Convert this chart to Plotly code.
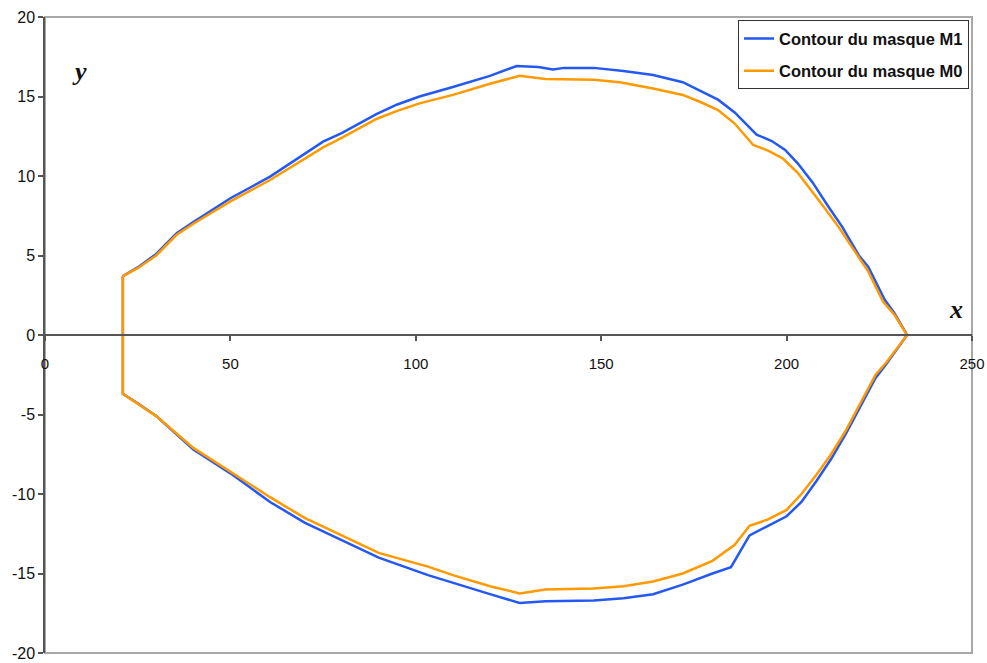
import plotly.graph_objects as go

# ---- data ----
m1_upper_x = [21, 25, 30, 35.5, 40, 50, 60.7, 70, 75, 80, 89.5, 95, 101, 110, 120, 127.2, 133, 137, 140, 148, 156, 164, 172, 176.6, 181.5, 186, 191.9, 196, 199.6, 203, 207, 211.2, 215, 219.5, 222, 226.5, 229, 232.5]
m1_upper_y = [3.7, 4.25, 5.1, 6.4, 7.1, 8.6, 9.96, 11.4, 12.16, 12.7, 13.9, 14.5, 15.0, 15.6, 16.3, 16.92, 16.85, 16.7, 16.8, 16.8, 16.6, 16.35, 15.9, 15.37, 14.8, 14.0, 12.6, 12.2, 11.64, 10.8, 9.6, 8.1, 6.8, 5.0, 4.3, 2.2, 1.4, 0]
m1_lower_x = [21, 25, 30, 40, 50, 60.7, 70, 80, 90, 103.3, 110, 120, 128, 135, 148, 156, 164, 172, 180, 185, 190, 195, 200, 204, 208, 212, 216, 220, 224, 227, 232.5]
m1_lower_y = [-3.7, -4.3, -5.1, -7.2, -8.7, -10.5, -11.8, -12.9, -14.0, -15.1, -15.6, -16.3, -16.85, -16.75, -16.7, -16.55, -16.3, -15.7, -15.0, -14.6, -12.6, -12.0, -11.4, -10.5, -9.2, -7.8, -6.2, -4.5, -2.7, -1.8, 0]

m0_upper_x = [21, 25, 30, 35.5, 40, 50, 60.7, 70, 75, 80, 89.5, 95, 101, 110, 120, 128, 135, 148, 155, 164, 172, 176.6, 181.5, 186, 191, 195, 199, 203, 206, 209.9, 214, 218.9, 222, 226, 229, 232.5]
m0_upper_y = [3.7, 4.2, 5.0, 6.3, 7.0, 8.4, 9.75, 11.1, 11.8, 12.4, 13.6, 14.1, 14.57, 15.1, 15.8, 16.3, 16.1, 16.05, 15.9, 15.5, 15.1, 14.67, 14.15, 13.3, 11.95, 11.6, 11.1, 10.2, 9.3, 8.1, 6.8, 5.1, 4.0, 2.1, 1.3, 0]
m0_lower_x = [21, 25, 30, 40, 50, 60.7, 70, 80, 90, 103.3, 110, 120, 128, 135, 148, 156, 164, 172, 180, 186, 190, 195, 200, 204, 208, 212, 216, 220, 224, 227, 232.5]
m0_lower_y = [-3.7, -4.3, -5.1, -7.1, -8.6, -10.2, -11.5, -12.6, -13.7, -14.57, -15.1, -15.8, -16.25, -16.0, -15.95, -15.8, -15.5, -15.0, -14.2, -13.2, -12.0, -11.6, -11.0, -10.0, -8.8, -7.5, -6.0, -4.3, -2.5, -1.7, 0]

x_ticks = [0, 50, 100, 150, 200, 250]
y_ticks = [-20, -15, -10, -5, 0, 5, 10, 15, 20]
series_names = ["Contour du masque M1", "Contour du masque M0"]
series_colors = ["#2458F2", "#FF9900"]


def closed(ux, uy, lx, ly):
    xs = list(ux) + list(reversed(lx[:-1])) + [ux[0]]
    ys = list(uy) + list(reversed(ly[:-1])) + [uy[0]]
    return xs, ys


fig = go.Figure()
for (ux, uy, lx, ly), name, col in zip(
    [(m1_upper_x, m1_upper_y, m1_lower_x, m1_lower_y),
     (m0_upper_x, m0_upper_y, m0_lower_x, m0_lower_y)],
    series_names, series_colors):
    xs, ys = closed(ux, uy, lx, ly)
    fig.add_trace(go.Scatter(x=xs, y=ys, mode="lines", name="<b>" + name + "</b>",
                             legendgroup=name,
                             line=dict(color=col, width=2.5)))

fig.update_layout(
    width=987, height=663,
    margin=dict(l=45, r=15, t=17, b=10),
    paper_bgcolor="white", plot_bgcolor="white",
    font=dict(family="Liberation Sans, Arial, sans-serif", size=15, color="#111"),
    showlegend=True,
    legend=dict(x=0.9968, y=0.995, xanchor="right", yanchor="top",
                bgcolor="white", bordercolor="#333", borderwidth=1,
                font=dict(size=16.5, color="#111", family="Liberation Sans, Arial"),
                traceorder="grouped", tracegroupgap=8),
    xaxis=dict(range=[0, 250], tickvals=x_ticks, ticktext=[str(v) for v in x_ticks],
               anchor="free", position=0.5, showline=True, linecolor="#555",
               linewidth=1.5, ticks="outside", ticklen=5, tickcolor="#555",
               tickwidth=1.5, ticklabelstandoff=10, showgrid=False, zeroline=False,
               automargin=False, tickfont=dict(size=15, color="#111")),
    yaxis=dict(range=[-20, 20], tickvals=y_ticks, ticktext=[str(v) for v in y_ticks],
               showline=True, linecolor="#555", linewidth=1.5, ticks="outside",
               ticklen=5, tickcolor="#555", tickwidth=1.5, showgrid=False,
               zeroline=False, automargin=False, tickfont=dict(size=16, color="#111")),
    shapes=[dict(type="rect", xref="paper", yref="paper", x0=0, x1=1, y0=0, y1=1,
                 line=dict(color="#a8a8a8", width=2), layer="below")],
    annotations=[
        dict(text="<b><i>y</i></b>", xref="paper", yref="paper", x=0.027, y=0.941,
             showarrow=False, font=dict(family="Liberation Serif, Times New Roman, serif",
                                        size=26, color="#111")),
        dict(text="<b><i>x</i></b>", xref="paper", yref="paper", x=0.992, y=0.54,
             showarrow=False, font=dict(family="Liberation Serif, Times New Roman, serif",
                                        size=26, color="#111")),
    ],
)

fig.write_html("out.html", config={"displayModeBar": False},
               post_script="document.body.style.margin='0';document.body.style.overflow='hidden';")
